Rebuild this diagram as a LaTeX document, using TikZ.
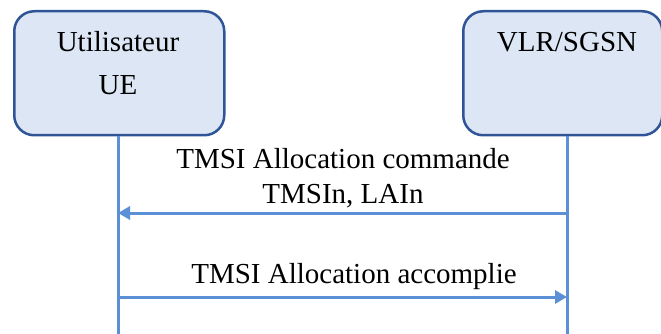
\documentclass[tikz,border=0pt]{standalone}
\usepackage{fontspec}
\setmainfont{Liberation Serif}
\usetikzlibrary{arrows.meta,patterns}
\definecolor{boxborder}{HTML}{2F5597}
\definecolor{boxfill}{HTML}{DCE6F4}
\definecolor{lifeline}{HTML}{5B8FD6}
\tikzset{
  entity/.style={draw=boxborder, line width=2.5pt, fill=boxfill, rounded corners=20pt},
  life/.style={draw=lifeline, line width=3pt},
  msg/.style={draw=lifeline, line width=3pt, -{Triangle[length=12pt,width=13pt]}},
  lbl/.style={font=\fontsize{29}{34}\selectfont, inner sep=0pt, anchor=base}
}
\begin{document}
\begin{tikzpicture}[x=1pt,y=-1pt]
\useasboundingbox (0,0) rectangle (661,334);
\node[entity, minimum width=210pt, minimum height=124pt, anchor=north west] (ue) at (13,10) {};
\node[entity, minimum width=199pt, minimum height=124pt, anchor=north west] (vlr) at (462,10) {};
\node[lbl] (t1) at (118,52) {Utilisateur};
\node[lbl] (t2) at (118,95) {UE};
\node[lbl] (t3) at (567,52) {VLR/SGSN};
\coordinate (ueb) at (118,334);
\coordinate (vlrb) at (567,334);
\draw[life] (ue.south -| t1) -- (ueb);
\draw[life] (vlr.south -| t3) -- (vlrb);
\coordinate (a1r) at (567,213);
\coordinate (a1l) at (118,213);
\coordinate (a2l) at (118,297);
\coordinate (a2r) at (567,297);
\draw[msg] (a1r) -- (a1l);
\draw[msg] (a2l) -- (a2r);
\node[lbl] (m1) at (343,168) {TMSI Allocation commande};
\node[lbl] (m2) at (343,203) {TMSIn, LAIn};
\node[lbl] (m3) at (354,283) {TMSI Allocation accomplie};
\end{tikzpicture}
\end{document}
